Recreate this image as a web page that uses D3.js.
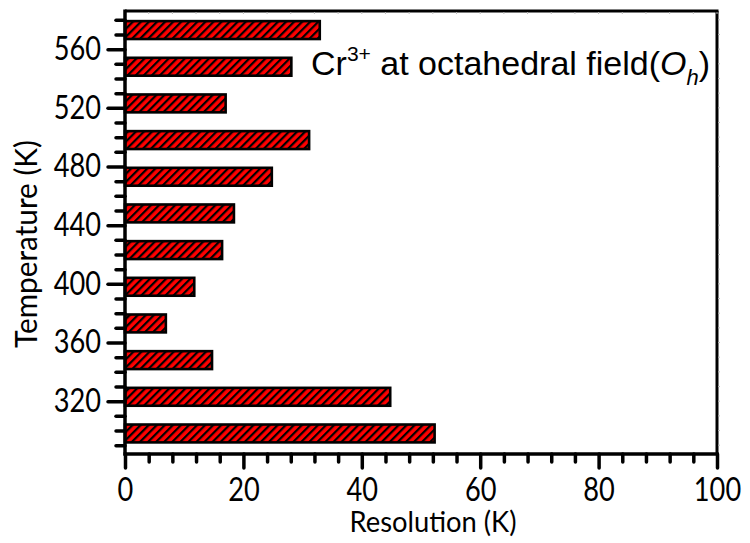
<!DOCTYPE html>
<html><head><meta charset="utf-8">
<script src="https://cdn.jsdelivr.net/npm/d3@7"></script>
<style>body{margin:0;background:#fff}svg{display:block}</style>
</head><body>
<svg id="c" width="750" height="543"></svg>
<script>
const temperatures = [298, 323, 348, 373, 398, 423, 448, 473, 498, 523, 548, 573];
const resolution = [52.3, 44.8, 14.7, 6.9, 11.7, 16.4, 18.4, 24.8, 31.1, 17.0, 28.1, 32.9];
const yMajorTicks = [320, 360, 400, 440, 480, 520, 560];
const xMajorTicks = [0, 20, 40, 60, 80, 100];
const xTitle = "Resolution (K)";
const yTitle = "Temperature (K)";

(function () {
const svg = d3.select("#c");
const pL = 125, pR = 717, pT = 11, pB = 454;
const x = d3.scaleLinear().domain([0, 100]).range([pL, pR]);
const y = d3.scaleLinear().domain([284, 586]).range([pB, pT]);
const tickFont = "Lato, 'Open Sans', sans-serif";
const squeeze = (sel, f) => sel.each(function () {
  const w = this.getComputedTextLength();
  d3.select(this).attr("textLength", w * f).attr("lengthAdjust", "spacingAndGlyphs");
});

// hatch pattern
const defs = svg.append("defs");
const pat = defs.append("pattern").attr("id", "hatch").attr("patternUnits", "userSpaceOnUse")
  .attr("width", 5.7).attr("height", 5.7).attr("patternTransform", "rotate(45)");
pat.append("rect").attr("width", 5.7).attr("height", 5.7).attr("fill", "#ff0000");
pat.append("rect").attr("x", 0).attr("width", 2.2).attr("height", 5.7).attr("fill", "#000");

// bars
const half = 6.1;
svg.append("g").selectAll("rect").data(temperatures).join("rect")
  .attr("x", x(0))
  .attr("y", (d) => y(d + half))
  .attr("width", (d, i) => x(resolution[i]) - x(0))
  .attr("height", (d) => y(d - half) - y(d + half))
  .attr("fill", "url(#hatch)")
  .attr("stroke", "#000").attr("stroke-width", 2.6);

// frame top & right (thin minor ticks)
const frame = svg.append("g");
frame.append("line").attr("x1", pL).attr("x2", pR + 1.5).attr("y1", pT).attr("y2", pT)
  .attr("stroke", "#000").attr("stroke-width", 3);
frame.append("line").attr("x1", pR).attr("x2", pR).attr("y1", pT).attr("y2", pB)
  .attr("stroke", "#000").attr("stroke-width", 3);
const xMinor = d3.range(0, 101, 4);
frame.selectAll(".tt").data(xMinor).join("line")
  .attr("x1", (d) => x(d)).attr("x2", (d) => x(d)).attr("y1", pT + 1).attr("y2", pT + 3)
  .attr("stroke", "#bbb").attr("stroke-width", 1);
const yMinor = d3.range(290, 586, 10);
frame.selectAll(".rt").data(yMinor).join("line")
  .attr("x1", pR + 1).attr("x2", pR + 3).attr("y1", (d) => y(d)).attr("y2", (d) => y(d))
  .attr("stroke", "#bbb").attr("stroke-width", 1);

// x axis
const xAx = svg.append("g").attr("transform", `translate(0,${pB})`)
  .call(d3.axisBottom(x).tickValues(xMajorTicks).tickSize(14).tickPadding(10).tickFormat(d3.format("d")));
xAx.select(".domain").remove();
xAx.selectAll(".tick line").attr("stroke", "#000").attr("stroke-width", 3.5).attr("stroke-linecap", "round");
xAx.selectAll(".tick text").attr("font-family", tickFont).attr("font-size", 32).attr("fill", "#000");
squeeze(xAx.selectAll(".tick text"), 0.85);
const xMin = svg.append("g").attr("transform", `translate(0,${pB})`)
  .call(d3.axisBottom(x).tickValues(xMinor.filter(d => d % 20 !== 0)).tickSize(8).tickFormat(""));
xMin.select(".domain").remove();
xMin.selectAll(".tick line").attr("stroke", "#000").attr("stroke-width", 3.5).attr("stroke-linecap", "round");
svg.append("line").attr("x1", pL - 1.5).attr("x2", pR + 1.5).attr("y1", pB).attr("y2", pB)
  .attr("stroke", "#000").attr("stroke-width", 3.5);

// y axis
const yAx = svg.append("g").attr("transform", `translate(${pL},0)`)
  .call(d3.axisLeft(y).tickValues(yMajorTicks).tickSize(17).tickPadding(7).tickFormat(d3.format("d")));
yAx.select(".domain").remove();
yAx.selectAll(".tick line").attr("stroke", "#000").attr("stroke-width", 3.5).attr("stroke-linecap", "round");
yAx.selectAll(".tick text").attr("font-family", tickFont).attr("font-size", 32).attr("fill", "#000");
squeeze(yAx.selectAll(".tick text"), 0.85);
const yMin = svg.append("g").attr("transform", `translate(${pL},0)`)
  .call(d3.axisLeft(y).tickValues(yMinor.filter(d => d % 40 !== 0)).tickSize(9).tickFormat(""));
yMin.select(".domain").remove();
yMin.selectAll(".tick line").attr("stroke", "#000").attr("stroke-width", 3.5).attr("stroke-linecap", "round");
svg.append("line").attr("x1", pL).attr("x2", pL).attr("y1", pT - 1.5).attr("y2", pB + 1.5)
  .attr("stroke", "#000").attr("stroke-width", 3.5);

// titles
const xt = svg.append("text").attr("x", 433).attr("y", 532).attr("text-anchor", "middle")
  .attr("font-family", tickFont).attr("font-size", 28).attr("fill", "#000").text(xTitle);
xt.attr("textLength", 167).attr("lengthAdjust", "spacingAndGlyphs");
const yt = svg.append("text").attr("transform", "translate(37,244) rotate(-90)").attr("text-anchor", "middle")
  .attr("font-family", tickFont).attr("font-size", 30).attr("fill", "#000").text(yTitle);
yt.attr("textLength", 208).attr("lengthAdjust", "spacingAndGlyphs");

// annotation
const ann = svg.append("text").attr("x", 311).attr("y", 75)
  .attr("font-family", "'Liberation Sans',Arial,sans-serif").attr("font-size", 34).attr("fill", "#000");
ann.append("tspan").text("Cr");
ann.append("tspan").attr("dy", -14).attr("font-size", 21).text("3+");
ann.append("tspan").attr("dy", 14).text(" at octahedral field(");
ann.append("tspan").attr("font-style", "italic").text("O");
ann.append("tspan").attr("font-style", "italic").attr("dy", 10).attr("font-size", 22).text("h");
ann.append("tspan").attr("dy", -10).text(")");
})();
</script>
</body></html>
